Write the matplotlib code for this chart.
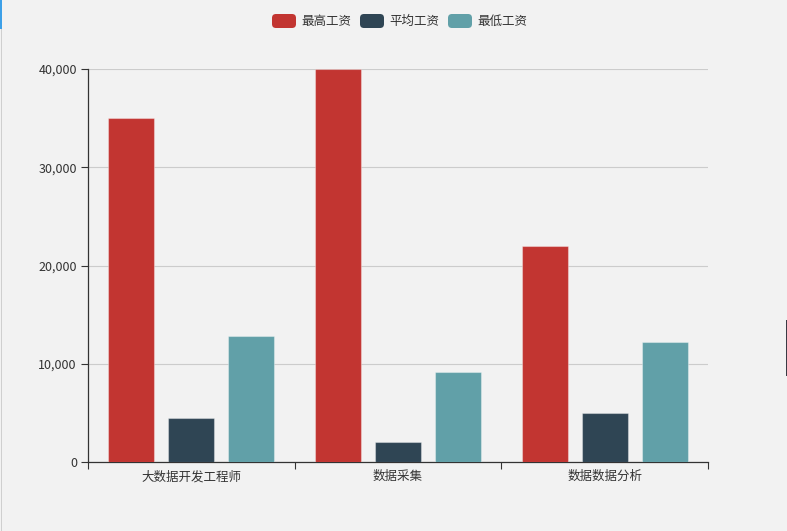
import matplotlib
matplotlib.use("Agg")
import matplotlib.pyplot as plt
from matplotlib.patches import FancyBboxPatch, Rectangle
from matplotlib.ticker import FuncFormatter
import numpy as np

plt.rcParams['font.family'] = ['Noto Sans CJK SC', 'DejaVu Sans']

# data
categories = ["大数据开发工程师", "数据采集", "数据数据分析"]
series_names = ["最高工资", "平均工资", "最低工资"]
max_salary = [35000, 40000, 22000]
avg_salary = [4500, 2000, 5000]
min_salary = [12800, 9200, 12200]
colors = ["#c23531", "#2f4554", "#61a0a8"]

bg = "#f2f2f2"
W, H = 787, 531
fig = plt.figure(figsize=(W / 100, H / 100), dpi=100, facecolor=bg)
ax = fig.add_axes([88 / W, 1 - 462 / H, 620 / W, 393 / H])
ax.set_facecolor(bg)

x = np.arange(len(categories))
offsets = [-0.29, 0, 0.29]
bw = 0.2225
for vals, off, c in zip([max_salary, avg_salary, min_salary], offsets, colors):
    ax.bar(x + off, vals, width=bw, color=c, edgecolor=(1, 1, 1, 0.35),
           linewidth=0.8, zorder=3)

ax.set_xlim(-0.5, len(categories) - 0.5)
ax.set_ylim(0, 40000)
ax.set_yticks(np.arange(0, 40001, 10000))
ax.yaxis.set_major_formatter(FuncFormatter(lambda v, p: f"{int(v):,}"))
ax.grid(axis='y', color='#cccccc', linewidth=0.8, zorder=0)

ax.set_xticks(x)
ax.set_xticklabels(categories)
ax.set_xticks(np.arange(-0.5, len(categories)), minor=True)
ax.tick_params(axis='x', which='major', length=0, pad=6, labelsize=9, labelcolor='#333333')
ax.tick_params(axis='x', which='minor', length=5, width=0.8, color='#333333')
ax.tick_params(axis='y', length=5, width=0.8, color='#333333', labelsize=9,
               labelcolor='#333333', pad=3)

for s in ['top', 'right']:
    ax.spines[s].set_visible(False)
for s in ['left', 'bottom']:
    ax.spines[s].set_color('#333333')
    ax.spines[s].set_linewidth(0.9)

# legend drawn by hand
lx0 = 272
for i, (name, c) in enumerate(zip(series_names, colors)):
    px = lx0 + i * 88
    box = FancyBboxPatch((px / W, 1 - 28 / H), 24 / W, 14 / H,
                         boxstyle="round,pad=0,rounding_size=0.005",
                         transform=fig.transFigure, facecolor=c, edgecolor='none',
                         mutation_aspect=W / H)
    fig.patches.append(box)
    fig.text((px + 29) / W, 1 - 21.5 / H, name, fontsize=9, color='#333333',
             va='center', ha='left')

# page borders
fig.patches.append(Rectangle((1 / W, 0), 1.2 / W, 1, transform=fig.transFigure,
                             facecolor='#cfcfcf', edgecolor='none'))
fig.patches.append(Rectangle((0, 1 - 29 / H), 1.5 / W, 29 / H, transform=fig.transFigure,
                             facecolor='#3da0e8', edgecolor='none'))
fig.patches.append(Rectangle((785.5 / W, 1 - 376 / H), 1.5 / W, 56 / H,
                             transform=fig.transFigure, facecolor='#3a3a44',
                             edgecolor='none'))

fig.savefig("out.png", dpi=100, facecolor=bg)
